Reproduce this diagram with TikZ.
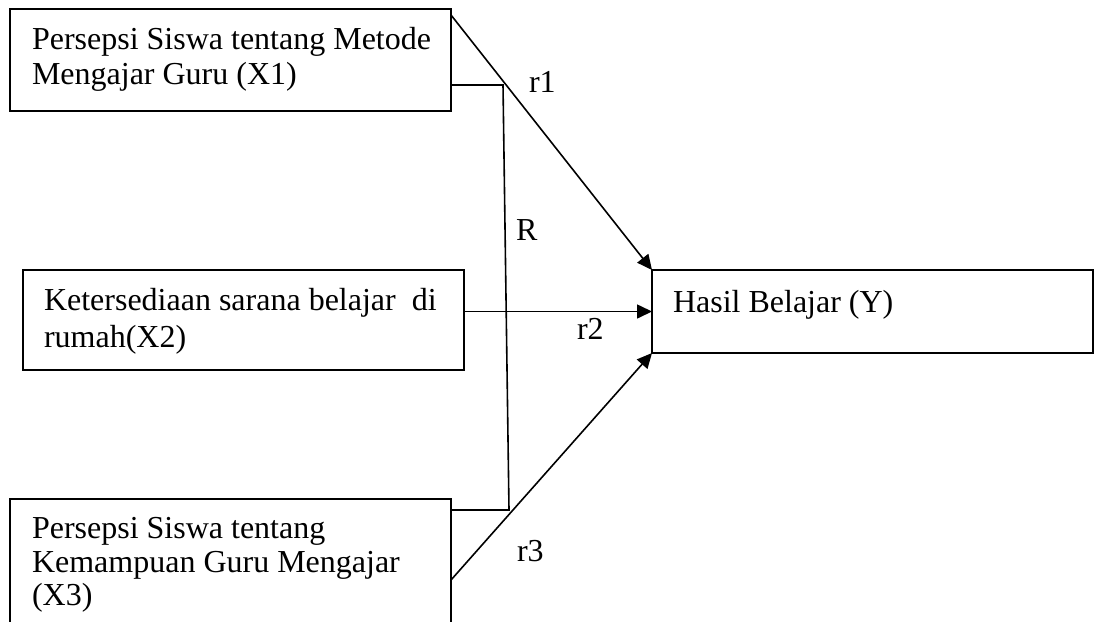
\documentclass[tikz,border=0pt]{standalone}
\usepackage{fontspec}
\setmainfont{Liberation Serif}
\usetikzlibrary{arrows.meta,calc}
\tikzset{
  box/.style={draw, line width=1.8pt, inner sep=0pt, outer sep=0pt, anchor=north west},
  txt/.style={anchor=base west, inner sep=0pt, outer sep=0pt, font=\fontsize{32}{37}\selectfont},
  conn/.style={line width=1.6pt},
  arr/.style={line width=1.6pt, -{Triangle[length=15pt,width=14pt]}}
}
\begin{document}
\begin{tikzpicture}[x=1pt,y=-1pt]
\useasboundingbox (0,0) rectangle (1099,621);
% boxes
\node[box, minimum width=441pt, minimum height=102pt] (x1) at (10,9) {};
\node[box, minimum width=441pt, minimum height=100pt] (x2) at (23,270) {};
\node[box, minimum width=441pt, minimum height=141pt] (x3) at (10,499) {};
\node[box, minimum width=441pt, minimum height=83pt] (y) at (652,270) {};
% texts
\node[txt] (t1a) at (32,49) {Persepsi Siswa tentang Metode};
\node[txt] (t1b) at (32,84) {Mengajar Guru (X1)};
\node[txt] (t2a) at (44,310) {Ketersediaan sarana belajar\ \ di};
\node[txt] (t2b) at (44,347) {rumah(X2)};
\node[txt] (t3a) at (32,538) {Persepsi Siswa tentang};
\node[txt] (t3b) at (32,572) {Kemampuan Guru Mengajar};
\node[txt] (t3c) at (32,605) {(X3)};
\node[txt] (ty) at (673,312) {Hasil Belajar (Y)};
% labels
\node[txt] (lr1) at (529,92) {r1};
\node[txt] (lR) at (516,240) {R};
\node[txt] (lr2) at (577,339) {r2};
\node[txt] (lr3) at (517,561) {r3};
% connector endpoints
\coordinate (s1) at ([yshift=-6pt]x1.north east);
\coordinate (s3) at ([yshift=-81pt]x3.north east);
\coordinate (b1) at ([yshift=-76pt]x1.north east);
\coordinate (b3) at ([yshift=-11pt]x3.north east);
\coordinate (c1) at (503,85);
\coordinate (c3) at (509,510);
% arrows
\draw[arr] (s1) -- (y.north west);
\draw[arr] (x2.east |- y.west) -- (y.west);
\draw[arr] (s3) -- (y.south west);
% R bracket
\draw[conn] (b1) -- (c1) -- (c3) -- (b3);
\end{tikzpicture}
\end{document}
